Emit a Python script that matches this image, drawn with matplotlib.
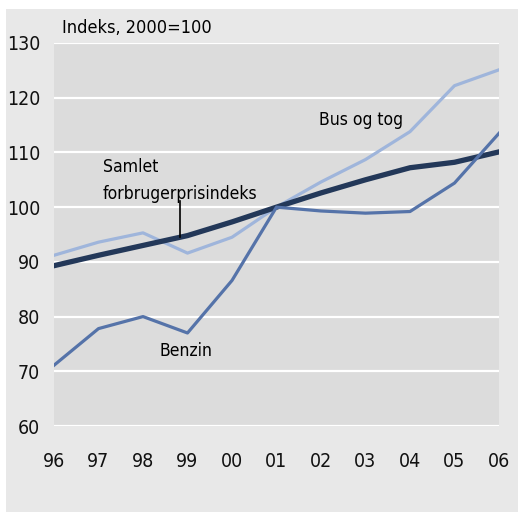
import matplotlib
matplotlib.use('Agg')
import matplotlib.pyplot as plt
from matplotlib.patches import Rectangle

plt.rcParams['font.family'] = ['DejaVu Sans']
plt.rcParams['font.stretch'] = 'condensed'

years = [1996, 1997, 1998, 1999, 2000, 2001, 2002, 2003, 2004, 2005, 2006]
year_labels = ['96', '97', '98', '99', '00', '01', '02', '03', '04', '05', '06']
samlet = [89.3, 91.2, 93.0, 94.8, 97.3, 100.0, 102.6, 105.0, 107.2, 108.2, 110.1]
bus_tog = [91.2, 93.6, 95.3, 91.6, 94.5, 100.0, 104.6, 108.7, 113.8, 122.2, 125.1]
benzin = [71.1, 77.8, 80.0, 77.0, 86.6, 100.0, 99.3, 98.9, 99.2, 104.4, 113.5]
y_ticks = [60, 70, 80, 90, 100, 110, 120, 130]

fig = plt.figure(figsize=(5.18, 5.13), dpi=100)
fig.patches.append(Rectangle((6 / 518, 1 / 513), 512 / 518, 1 - 10 / 513,
                             transform=fig.transFigure, facecolor='#e8e8e8',
                             edgecolor='none', zorder=-1))

ax = fig.add_axes([54 / 518, 1 - 426 / 513, 445 / 518, 383 / 513])
ax.set_facecolor('#dcdcdc')
for s in ax.spines.values():
    s.set_visible(False)

ax.plot(years, bus_tog, color='#9fb5db', lw=2.3, zorder=3)
ax.plot(years, samlet, color='#233859', lw=3.8, zorder=4)
ax.plot(years, benzin, color='#5573a9', lw=2.3, zorder=5)

ax.set_xlim(1996, 2006)
ax.set_ylim(60, 130)
ax.set_yticks(y_ticks)
ax.set_xticks(years)
ax.set_xticklabels(year_labels)
ax.grid(axis='y', color='white', lw=1.6, zorder=1)
ax.set_axisbelow(True)
ax.tick_params(length=0, labelsize=14, colors='#111111')
ax.tick_params(axis='y', pad=10)
ax.tick_params(axis='x', pad=19)

fig.text(62 / 518, 1 - 28 / 513, 'Indeks, 2000=100', fontsize=13, va='center')

ax.text(1997.09, 106.4, 'Samlet', fontsize=12.6, va='baseline', ha='left')
ax.text(1997.09, 101.4, 'forbrugerprisindeks', fontsize=12.6, va='baseline', ha='left')
ax.plot([1998.83, 1998.83], [101.2, 94.6], color='black', lw=1.2, zorder=6)
ax.text(2001.96, 115.0, 'Bus og tog', fontsize=12.6, va='baseline', ha='left')
ax.text(1998.37, 72.8, 'Benzin', fontsize=12.6, va='baseline', ha='left')

fig.savefig('out.png', dpi=100)
